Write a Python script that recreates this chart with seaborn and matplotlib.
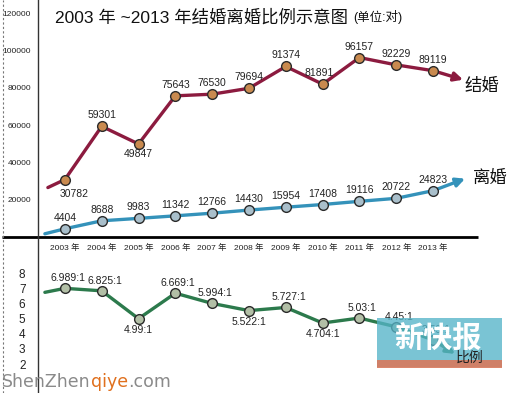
import matplotlib
matplotlib.use("Agg")
import matplotlib.pyplot as plt
import matplotlib.transforms as mtransforms
from matplotlib.lines import Line2D
from matplotlib.patches import Rectangle
import seaborn as sns
import pandas as pd

# Dados
anos = [2003, 2004, 2005, 2006, 2007, 2008, 2009, 2010, 2011, 2012, 2013]
casamentos = [30782, 59301, 49847, 75643, 76530, 79694, 91374, 81891, 96157, 92229, 89119]
divorcios = [4404, 8688, 9983, 11342, 12766, 14430, 15954, 17408, 19116, 20722, 24823]
razao = [6.989, 6.825, 4.99, 6.669, 5.994, 5.522, 5.727, 4.704, 5.03, 4.45, 3.59]
razao_txt = ["6.989:1", "6.825:1", "4.99:1", "6.669:1", "5.994:1", "5.522:1",
             "5.727:1", "4.704:1", "5.03:1", "4.45:1", "3.59:1"]
rotulos_anos = [f"{a} 年" for a in anos]
ticks_topo = [20000, 40000, 60000, 80000, 100000, 120000]
ticks_razao = [2, 3, 4, 5, 6, 7, 8]

df = pd.DataFrame({"ano": anos, "casamentos": casamentos,
                   "divorcios": divorcios, "razao": razao})

# Estilo
sns.set_theme(style="white")
plt.rcParams["font.family"] = ["Liberation Sans", "Noto Sans CJK SC", "DejaVu Sans"]
plt.rcParams["axes.unicode_minus"] = False

W, H = 510, 393
fig = plt.figure(figsize=(W / 100, H / 100), dpi=100)
fig.patch.set_facecolor("white")

ax = fig.add_axes([38 / W, (H - 237) / H, 440 / W, 237 / H])
ax2 = fig.add_axes([38 / W, 0, 440 / W, 156 / H])
for a in (ax, ax2):
    a.set_facecolor("none")
    a.set_xlim(2002.27, 2014.22)
    for s in ["top", "right", "bottom"]:
        a.spines[s].set_visible(False)
    a.spines["left"].set_color("#333333")
    a.spines["left"].set_linewidth(1)
ax.set_ylim(0, 127000)
ax2.set_ylim(8 - 120 / 15.17, 8 + 36 / 15.17)

cor_cas, face_cas = "#8C1B3F", "#C98A4F"
cor_div, face_div = "#3492BA", "#A9BFCB"
cor_raz, face_raz = "#2C7A4C", "#B2BFA6"


def serie(a, col, cor, face, dx_in, dy_in, dx_out, dy_out):
    sns.lineplot(data=df, x="ano", y=col, ax=a, color=cor, linewidth=2.4,
                 marker="o", markersize=7, markerfacecolor=face,
                 markeredgecolor="#2a2a2a", markeredgewidth=1, zorder=4)
    x0, y0 = df["ano"].iloc[0], df[col].iloc[0]
    x1, y1 = df["ano"].iloc[-1], df[col].iloc[-1]
    t_in = mtransforms.offset_copy(a.transData, fig=fig, x=dx_in, y=dy_in, units="dots")
    a.annotate("", xy=(x0, y0), xycoords=t_in, xytext=(x0, y0), textcoords=a.transData,
               arrowprops=dict(arrowstyle="-", color=cor, lw=2.4, shrinkA=0, shrinkB=0),
               zorder=3)
    t_out = mtransforms.offset_copy(a.transData, fig=fig, x=dx_out, y=dy_out, units="dots")
    a.annotate("", xy=(x1, y1), xycoords=t_out, xytext=(x1, y1), textcoords=a.transData,
               arrowprops=dict(arrowstyle="-|>", color=cor, lw=2.4, mutation_scale=13,
                               shrinkA=0, shrinkB=0),
               zorder=3)


serie(ax, "casamentos", cor_cas, face_cas, -17, -8, 30, -9)
serie(ax, "divorcios", cor_div, face_div, -20, -5, 32, 12)
serie(ax2, "razao", cor_raz, face_raz, -20, -4, 22, -14)

# Rotulos dos pontos
off_cas = [(9, -9, "top"), (0, 6, "bottom"), (0, -5, "top"), (0, 6, "bottom"),
           (0, 6, "bottom"), (0, 6, "bottom"), (0, 6, "bottom"), (-3, 6, "bottom"),
           (0, 6, "bottom"), (0, 6, "bottom"), (0, 6, "bottom")]
for x, v, (dx, dy, va) in zip(anos, casamentos, off_cas):
    ax.annotate(str(v), (x, v), xytext=(dx, dy), textcoords="offset pixels",
                ha="center", va=va, fontsize=7.5, color="#222222", zorder=5)
for x, v in zip(anos, divorcios):
    ax.annotate(str(v), (x, v), xytext=(0, 6), textcoords="offset pixels",
                ha="center", va="bottom", fontsize=7.5, color="#222222", zorder=5)
acima = [True, True, False, True, True, False, True, False, True, True, True]
for x, v, t, up in zip(anos, razao, razao_txt, acima):
    ax2.annotate(t, (x, v), xytext=(3, 5) if up else (0, -6), textcoords="offset pixels",
                 ha="center", va="bottom" if up else "top", fontsize=7.5,
                 color="#222222", zorder=5)

# Eixos
ax.set_xticks(anos)
ax.set_xticklabels(rotulos_anos, fontsize=6, color="#222222")
ax.set_yticks(ticks_topo)
ax.set_yticklabels([str(t) for t in ticks_topo], fontsize=6, color="#222222")
ax.tick_params(axis="both", length=0, pad=5)
ax.set_xlabel("")
ax.set_ylabel("")
ax.plot([-36 / 440, 1], [0, 0], transform=ax.transAxes, color="black", lw=2,
        clip_on=False, solid_capstyle="butt")

ax2.set_xticks([])
ax2.set_yticks(ticks_razao)
ax2.set_yticklabels([str(t) for t in ticks_razao], fontsize=8.5, color="#222222")
ax2.tick_params(axis="y", length=0, pad=9)
ax2.set_xlabel("")
ax2.set_ylabel("")

# Legendas das series
ax.annotate("结婚", (anos[-1], casamentos[-1]), xytext=(49, -15), textcoords="offset pixels",
            ha="center", va="center", fontsize=12.5, color="#111111")
ax.annotate("离婚", (anos[-1], divorcios[-1]), xytext=(57, 13), textcoords="offset pixels",
            ha="center", va="center", fontsize=12.5, color="#111111")

# Titulo
fig.text(55 / W, 1 - 17 / H, "2003 年 ~2013 年结婚离婚比例示意图", fontsize=12.5,
         va="center", ha="left", color="#111111")
fig.text(353 / W, 1 - 17 / H, "(单位:对)", fontsize=9, va="center", ha="left",
         color="#111111")

# Borda tracejada
fig.add_artist(Line2D([3 / W, 3 / W], [0, 1], transform=fig.transFigure,
                      color="#777777", lw=0.8, ls=(0, (2, 2))))

# Marca d'agua
fig.add_artist(Rectangle((377 / W, (H - 367) / H), 125 / W, 49 / H,
                         transform=fig.transFigure, facecolor="#55B4C8", alpha=0.78,
                         edgecolor="none", zorder=10))
fig.add_artist(Rectangle((377 / W, (H - 368) / H), 125 / W, 8 / H,
                         transform=fig.transFigure, facecolor="#D9795C", alpha=0.9,
                         edgecolor="none", zorder=10))
fig.text(438 / W, 1 - 338 / H, "新快报", fontsize=21, color="white", fontweight="bold",
         ha="center", va="center", zorder=11, family=["Noto Sans CJK SC"])
fig.text(470 / W, 1 - 358 / H, "比例", fontsize=10, color="#222222", style="italic",
         ha="center", va="center", zorder=12)

fig.canvas.draw()
r = fig.canvas.get_renderer()
x_pos = 2
for parte, cor in [("ShenZhen", "#8a8a8a"), ("qiye", "#E0701E"), (".com", "#8a8a8a")]:
    t = fig.text(x_pos / W, 1 - 382 / H, parte, fontsize=12.5, color=cor, ha="left",
                 va="center", family=["DejaVu Sans"], zorder=12)
    x_pos += t.get_window_extent(renderer=r).width

plt.savefig("out.png", dpi=100)
plt.close()
